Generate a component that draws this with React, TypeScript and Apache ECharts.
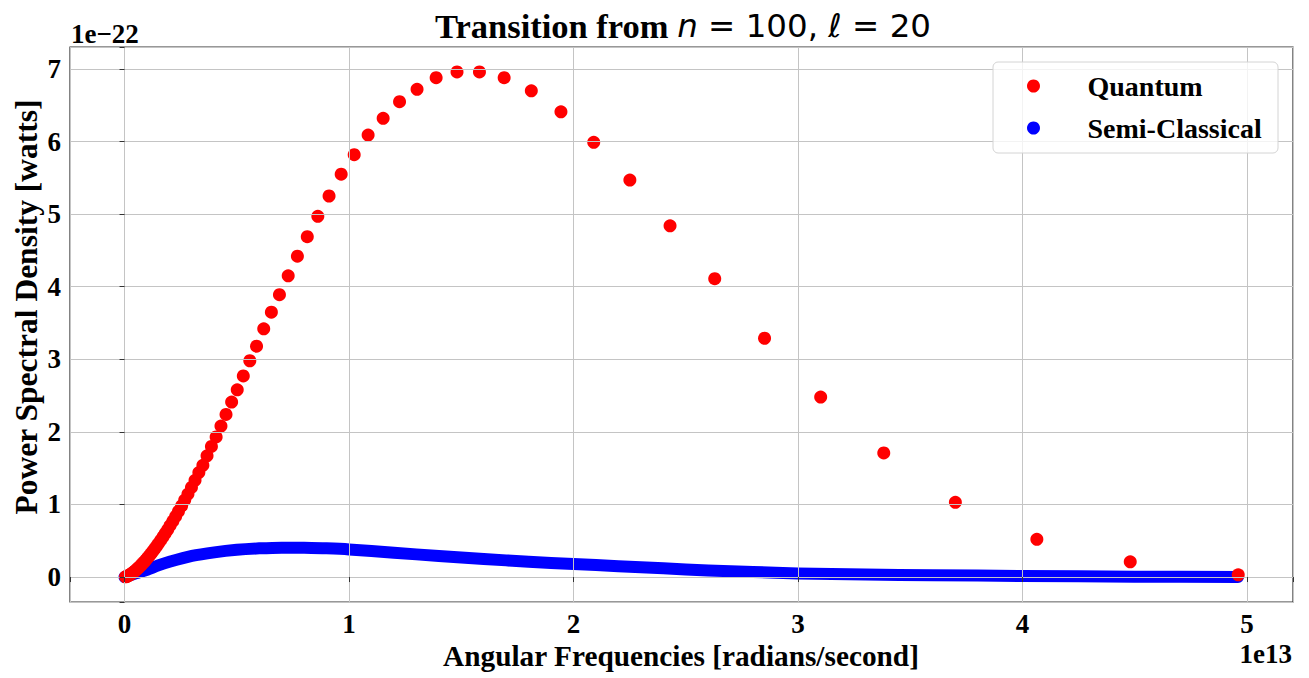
import React, { useEffect, useRef } from "react";
import * as echarts from "echarts";

// Quantum transitions (x in units of 1e13 rad/s, y in units of 1e-22 W)
const quantumX = [
  0.0042, 0.0085, 0.013, 0.0176, 0.0223, 0.0272, 0.0323, 0.0375, 0.0429, 0.0485,
  0.0543, 0.0602, 0.0664, 0.0728, 0.0794, 0.0862, 0.0933, 0.1007, 0.108, 0.116,
  0.1245, 0.133, 0.142, 0.151, 0.161, 0.171, 0.181, 0.192, 0.203, 0.215,
  0.2275, 0.24, 0.254, 0.268, 0.2825, 0.298, 0.314, 0.331, 0.349, 0.3675,
  0.387, 0.408, 0.4295, 0.452, 0.477, 0.502, 0.529, 0.558, 0.588, 0.62,
  0.654, 0.69, 0.729, 0.77, 0.814, 0.861, 0.911, 0.965, 1.023, 1.085,
  1.152, 1.225, 1.303, 1.388, 1.481, 1.581, 1.691, 1.812, 1.944, 2.09,
  2.251, 2.43, 2.629, 2.851, 3.101, 3.382, 3.701, 4.064, 4.48, 4.961,
];
const quantumY = [
  0.003, 0.007, 0.013, 0.02, 0.029, 0.038, 0.049, 0.061, 0.074, 0.089,
  0.105, 0.122, 0.14, 0.16, 0.182, 0.205, 0.229, 0.256, 0.284, 0.315,
  0.349, 0.383, 0.422, 0.461, 0.506, 0.552, 0.6, 0.653, 0.709, 0.77,
  0.835, 0.903, 0.98, 1.06, 1.143, 1.235, 1.333, 1.44, 1.54, 1.67,
  1.8, 1.93, 2.08, 2.24, 2.41, 2.58, 2.77, 2.98, 3.18, 3.42,
  3.65, 3.89, 4.15, 4.42, 4.69, 4.97, 5.25, 5.55, 5.82, 6.09,
  6.32, 6.55, 6.72, 6.88, 6.96, 6.96, 6.88, 6.7, 6.41, 5.99,
  5.47, 4.84, 4.11, 3.29, 2.48, 1.71, 1.03, 0.52, 0.21, 0.03,
];

// Semi-classical curve
const semiX = [
  0, 0.05, 0.1, 0.15, 0.2, 0.3, 0.4, 0.5, 0.6, 0.7, 0.8, 0.9, 1.0, 1.2, 1.4,
  1.6, 1.8, 2.0, 2.2, 2.4, 2.6, 2.8, 3.0, 3.3, 3.6, 4.0, 4.5, 4.96,
];
const semiY = [
  0, 0.05, 0.1, 0.16, 0.21, 0.29, 0.34, 0.375, 0.395, 0.405, 0.405, 0.395, 0.38, 0.335, 0.29,
  0.25, 0.21, 0.18, 0.15, 0.12, 0.09, 0.07, 0.05, 0.035, 0.025, 0.015, 0.005, 0.0,
];

const titleText = "{a|Transition from }{b|n}{c| = 100, }{b|ℓ}{c| = 20}";
const xLabel = "Angular Frequencies [radians/second]";
const yLabel = "Power Spectral Density [watts]";
const xOffsetText = "1e13";
const yOffsetText = "1e\u221222";
const seriesNames = ["Quantum", "Semi-Classical"];

const serif = '"Liberation Serif", "Times New Roman", serif';

const intLabel = (v: number) =>
  Math.abs(v - Math.round(v)) < 1e-6 ? String(Math.round(v)) : "";

export default function App() {
  const ref = useRef<HTMLDivElement>(null);
  useEffect(() => {
    if (!ref.current) return;
    const chart = echarts.init(ref.current, null, { renderer: "svg" });
    const tickLabel = {
      color: "#000",
      fontFamily: serif,
      fontWeight: "bold",
      fontSize: 27,
      formatter: intLabel,
    };
    const option: any = {
      animation: false,
      backgroundColor: "#fff",
      grid: {
        left: 70,
        top: 47,
        right: 16,
        bottom: 76,
        show: true,
        borderColor: "#333",
        borderWidth: 1.2,
        containLabel: false,
      },
      xAxis: {
        type: "value",
        min: -0.243,
        max: 5.205,
        splitNumber: 5,
        z: 3,
        axisLine: { show: false },
        axisTick: { show: true, inside: false, length: 5, lineStyle: { color: "#333", width: 1 } },
        splitLine: { show: true, lineStyle: { color: "#c4c4c4", width: 1 } },
        axisLabel: { ...tickLabel, margin: 8 },
      },
      yAxis: {
        type: "value",
        min: -0.344,
        max: 7.303,
        splitNumber: 8,
        z: 3,
        axisLine: { show: false },
        axisTick: { show: true, inside: false, length: 5, lineStyle: { color: "#333", width: 1 } },
        splitLine: { show: true, lineStyle: { color: "#c4c4c4", width: 1 } },
        axisLabel: { ...tickLabel, margin: 9 },
      },
      legend: {
        orient: "vertical",
        left: 1022,
        top: 66,
        itemWidth: 98,
        itemHeight: 13,
        itemGap: 12,
        z: 6,
        textStyle: {
          color: "#000",
          fontFamily: serif,
          fontWeight: "bold",
          fontSize: 28,
          lineHeight: 30,
        },
        data: [
          { name: seriesNames[0], icon: "circle" },
          { name: seriesNames[1], icon: "circle" },
        ],
      },
      series: [
        {
          name: seriesNames[1],
          type: "line",
          data: semiX.map((x, i) => [x, semiY[i]]),
          smooth: 0.3,
          showSymbol: false,
          symbol: "circle",
          lineStyle: { color: "#0000ff", width: 12, cap: "round", join: "round" },
          itemStyle: { color: "#0000ff" },
          z: 2,
        },
        {
          name: seriesNames[0],
          type: "scatter",
          data: quantumX.map((x, i) => [x, quantumY[i]]),
          symbol: "circle",
          symbolSize: 13,
          itemStyle: { color: "#ff0000", opacity: 1 },
          z: 2.5,
        },
      ],
      graphic: [
        {
          type: "rect",
          z: 5,
          shape: { x: 993, y: 62, width: 285, height: 91, r: 5 },
          style: { fill: "rgba(255,255,255,0.8)", stroke: "#d4d4d4", lineWidth: 1 },
        },
        {
          type: "text",
          z: 5,
          x: 683,
          y: 26,
          style: {
            text: titleText,
            align: "center",
            verticalAlign: "middle",
            rich: {
              a: { fontFamily: serif, fontWeight: "bold", fontSize: 34.5, fill: "#000" },
              b: { fontFamily: "DejaVu Sans", fontStyle: "italic", fontSize: 32.5, fill: "#000" },
              c: { fontFamily: "DejaVu Sans", fontSize: 32.5, fill: "#000" },
            },
          },
        },
        {
          type: "text",
          z: 5,
          x: 681,
          y: 656,
          style: {
            text: xLabel,
            align: "center",
            verticalAlign: "middle",
            fontFamily: serif,
            fontWeight: "bold",
            fontSize: 29.3,
            fill: "#000",
          },
        },
        {
          type: "text",
          z: 5,
          x: 26,
          y: 307,
          rotation: Math.PI / 2,
          style: {
            text: yLabel,
            align: "center",
            verticalAlign: "middle",
            fontFamily: serif,
            fontWeight: "bold",
            fontSize: 31.5,
            fill: "#000",
          },
        },
        {
          type: "text",
          z: 5,
          x: 1292,
          y: 654,
          style: {
            text: xOffsetText,
            align: "right",
            verticalAlign: "middle",
            fontFamily: serif,
            fontWeight: "bold",
            fontSize: 27,
            fill: "#000",
          },
        },
        {
          type: "text",
          z: 5,
          x: 71,
          y: 34,
          style: {
            text: yOffsetText,
            align: "left",
            verticalAlign: "middle",
            fontFamily: serif,
            fontWeight: "bold",
            fontSize: 27,
            fill: "#000",
          },
        },
      ],
    };
    chart.setOption(option);
    return () => chart.dispose();
  }, []);
  return (
    <div
      ref={ref}
      style={{ position: "fixed", left: 0, top: 0, width: 1309, height: 678, background: "#fff" }}
    />
  );
}
